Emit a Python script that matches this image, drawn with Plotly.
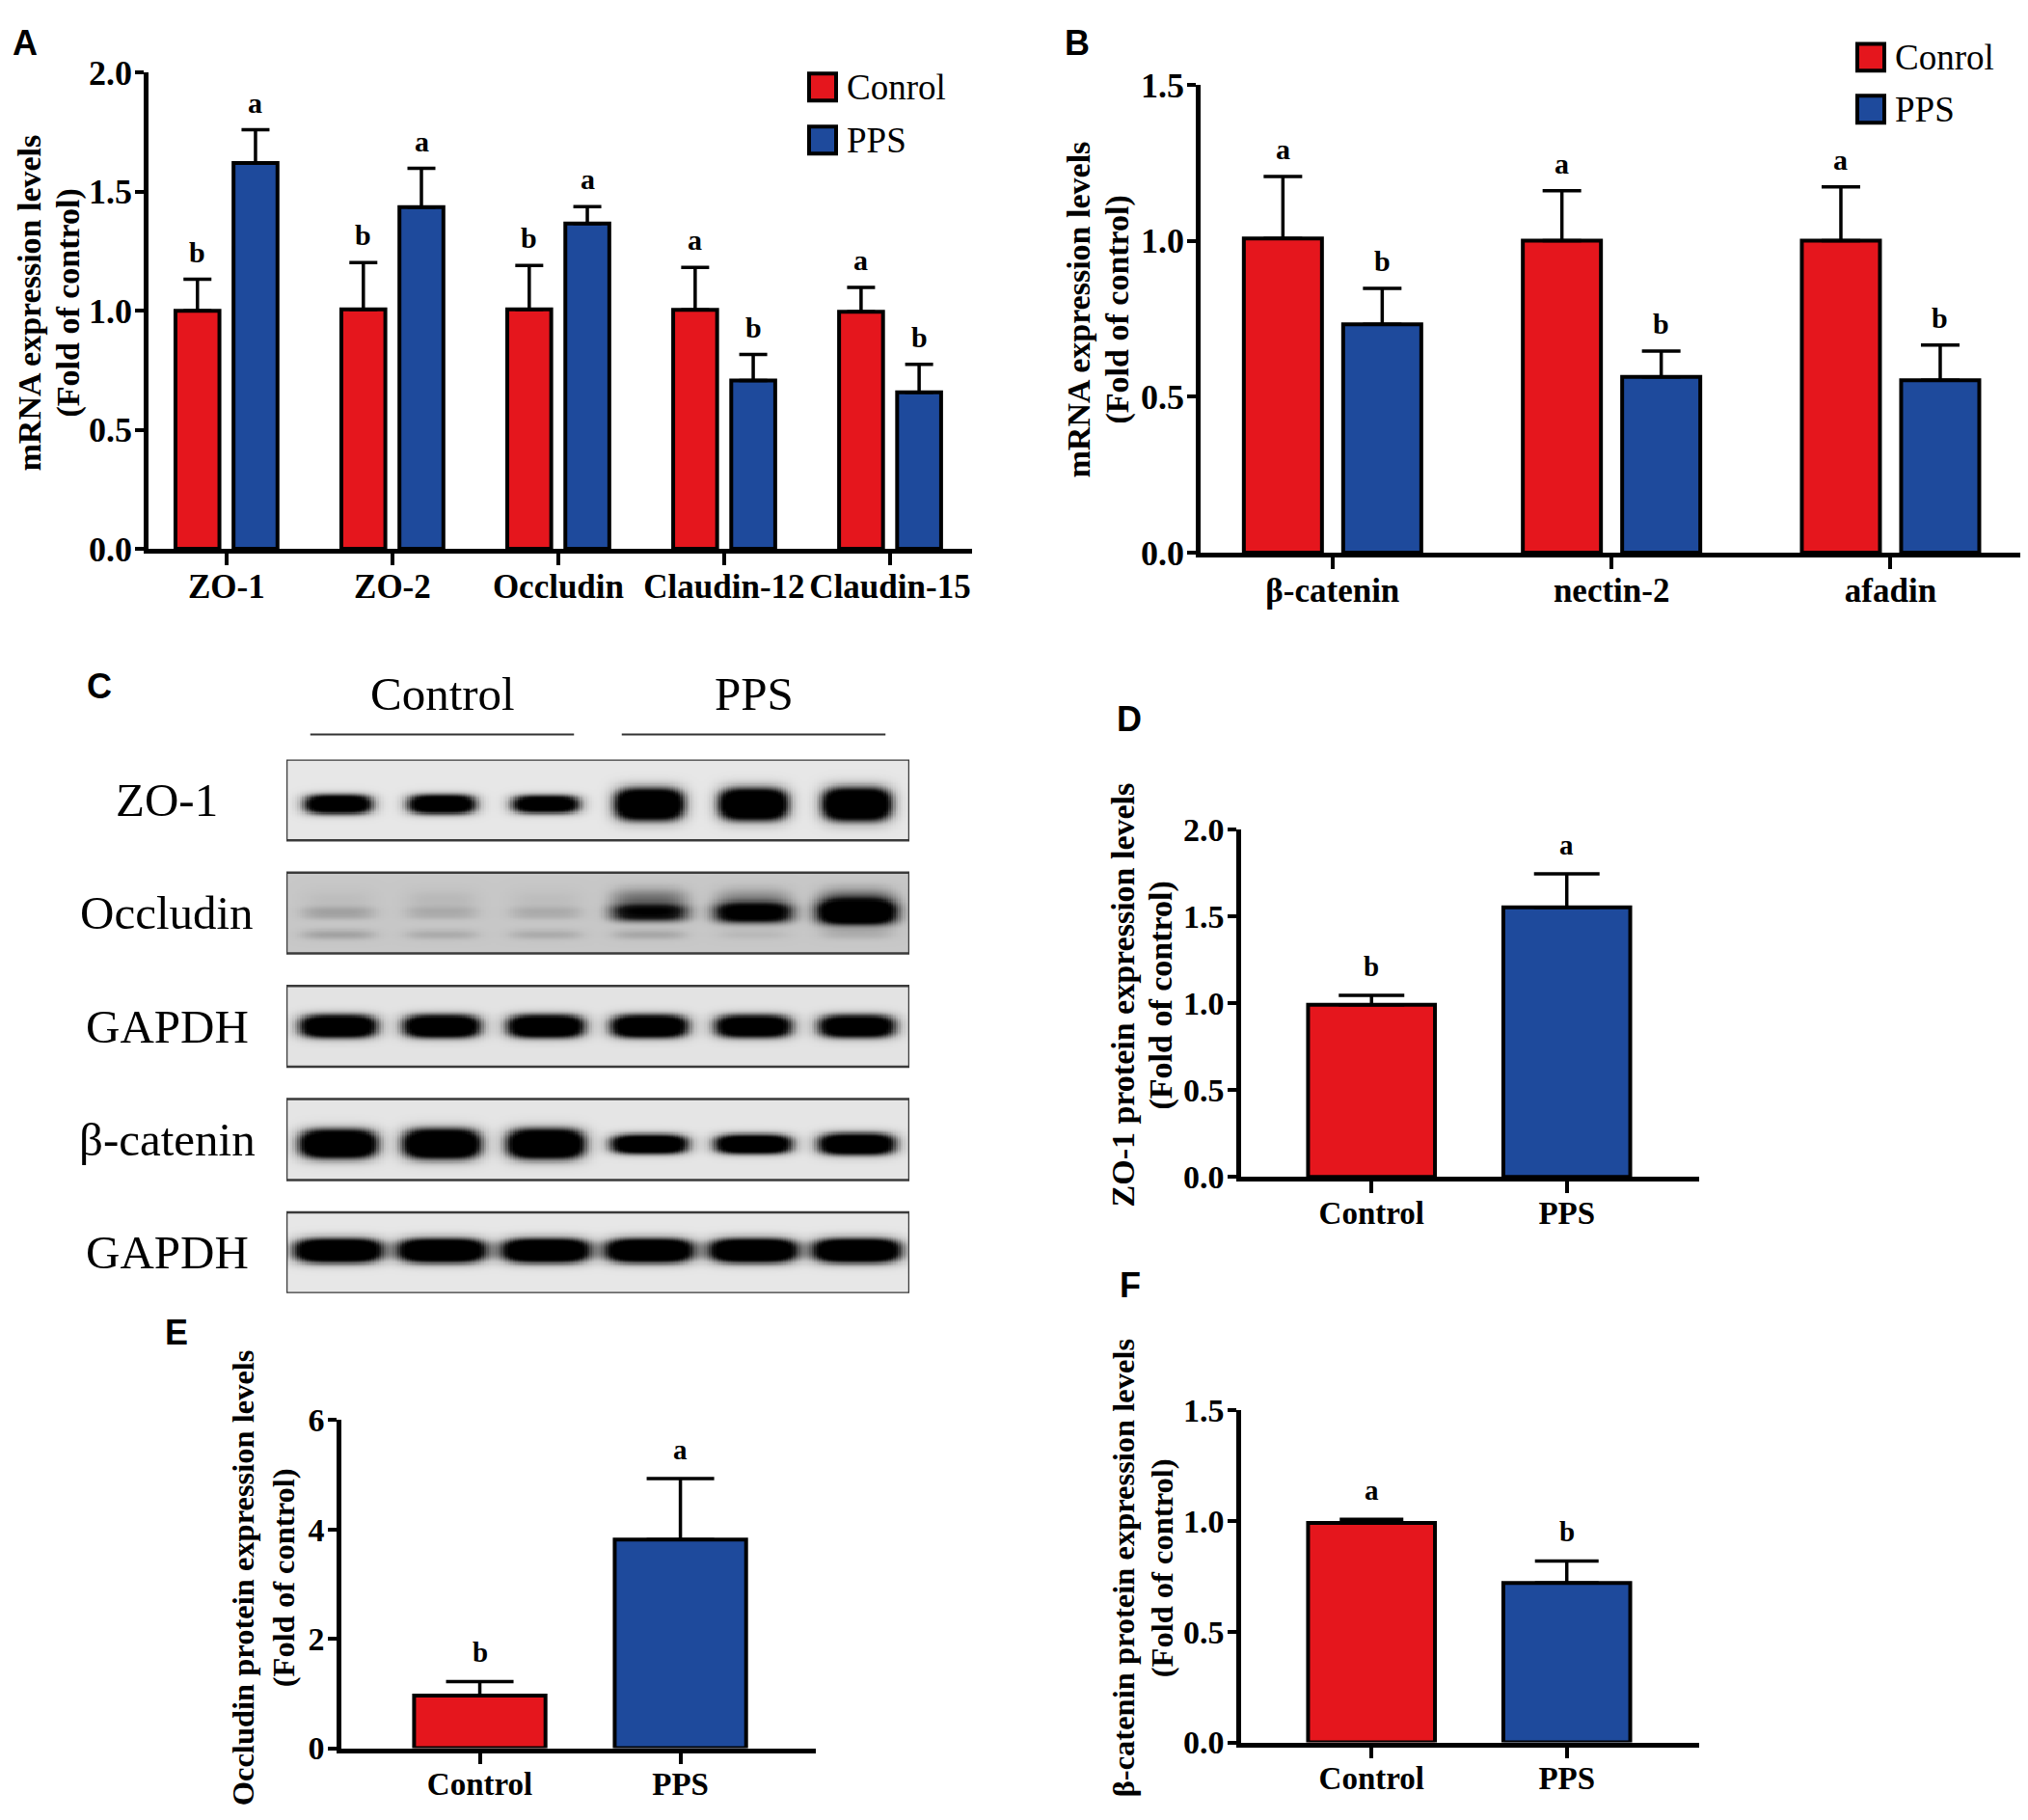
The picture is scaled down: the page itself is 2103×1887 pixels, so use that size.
import numpy as np
import plotly.graph_objects as go

# ---- A: mRNA of tight junction genes
a_genes = ["ZO-1", "ZO-2", "Occludin", "Claudin-12", "Claudin-15"]
a_control = [1.00, 1.006, 1.006, 1.004, 0.996]
a_control_sem = [0.132, 0.196, 0.184, 0.178, 0.102]
a_pps = [1.621, 1.435, 1.366, 0.707, 0.657]
a_pps_sem = [0.139, 0.163, 0.071, 0.109, 0.118]
a_control_sig = ["b", "b", "b", "a", "a"]
a_pps_sig = ["a", "a", "a", "b", "b"]

# ---- B: mRNA of adherens junction genes
b_genes = ["β-catenin", "nectin-2", "afadin"]
b_control = [1.008, 1.001, 1.001]
b_control_sem = [0.199, 0.160, 0.173]
b_pps = [0.733, 0.564, 0.553]
b_pps_sem = [0.115, 0.083, 0.113]
b_control_sig = ["a", "a", "a"]
b_pps_sig = ["b", "b", "b"]

# ---- D, E, F: protein quantification
groups = ["Control", "PPS"]
d_zo1 = [0.991, 1.552]
d_zo1_sem = [0.055, 0.193]
d_sig = ["b", "a"]
e_occludin = [0.96, 3.815]
e_occludin_sem = [0.258, 1.115]
e_sig = ["b", "a"]
f_bcatenin = [0.992, 0.721]
f_bcatenin_sem = [0.016, 0.099]
f_sig = ["a", "b"]

# ---- C: western blot, band darkness per lane (3 control + 3 PPS)
blot_rows = ["ZO-1", "Occludin", "GAPDH", "β-catenin", "GAPDH"]
blot_lanes = [1, 2, 3, 4, 5, 6]
band_strength = [
    [0.85, 0.85, 0.80, 1.00, 1.00, 1.00],
    [0.08, 0.06, 0.06, 0.45, 0.60, 0.80],
    [0.90, 0.90, 0.90, 0.90, 0.85, 0.85],
    [1.00, 1.00, 1.00, 0.90, 0.90, 0.90],
    [1.00, 1.00, 1.00, 1.00, 1.00, 1.00],
]
band_half_height = [
    [0.085, 0.085, 0.080, 0.140, 0.140, 0.145],
    [0.060, 0.060, 0.060, 0.075, 0.085, 0.100],
    [0.100, 0.100, 0.100, 0.100, 0.100, 0.100],
    [0.125, 0.130, 0.130, 0.085, 0.085, 0.095],
    [0.105, 0.105, 0.105, 0.105, 0.105, 0.105],
]
band_half_width = [0.33, 0.37, 0.37, 0.37, 0.42]
band_offset = [0.04, 0.0, 0.0, 0.04, -0.02]
blot_background = [0.05, 0.22, 0.07, 0.06, 0.05]
occludin_lower = [0.09, 0.07, 0.07, 0.08, 0.04, 0.06]
occludin_upper = [0.03, 0.04, 0.03, 0.20, 0.15, 0.24]

RED = "#E5161D"
BLUE = "#1E4A9C"
SERIF = "Liberation Serif"
SANS = "Liberation Sans"
W, H = 2087, 1884
# the page shows the figure a bit lower and slightly squeezed in height,
# so reference pixel positions are mapped onto figure pixels here
LEFT, TOP, SQUEEZE = 5, 27.5, 0.9815


def px(x):
    return (x - LEFT) / W


def py(y):
    return 1 - ((y - TOP) / SQUEEZE) / H


def dom(a, b):
    return [max(0.0, min(1.0, a)), max(0.0, min(1.0, b))]


fig = go.Figure()


def add_pair(xa, ya, cats, ctrl, ctrl_sem, pps, pps_sem, off, width, cap):
    x = np.arange(len(cats))
    for vals, sem, color, shift in [(ctrl, ctrl_sem, RED, -off), (pps, pps_sem, BLUE, off)]:
        fig.add_trace(go.Bar(
            x=x + shift, y=vals, width=width, xaxis=xa, yaxis=ya, showlegend=False,
            marker=dict(color=color, line=dict(color="black", width=4)),
            error_y=dict(type="data", array=sem, arrayminus=[0] * len(vals), symmetric=False,
                         color="black", thickness=3.5, width=cap)))


def add_single(xa, ya, vals, sem, width, cap):
    fig.add_trace(go.Bar(
        x=np.arange(len(groups)), y=vals, width=width, xaxis=xa, yaxis=ya, showlegend=False,
        marker=dict(color=[RED, BLUE], line=dict(color="black", width=4)),
        error_y=dict(type="data", array=sem, arrayminus=[0] * len(vals), symmetric=False,
                     color="black", thickness=3.5, width=cap)))


def add_letters(xa, ya, xs, vals, sem, letters, size, shift):
    for x, v, e, t in zip(xs, vals, sem, letters):
        fig.add_annotation(x=x, y=v + e, xref=xa, yref=ya, text=t, showarrow=False,
                           yanchor="bottom", yshift=shift,
                           font=dict(family=SERIF, size=size, color="black", weight="bold"))


def add_legend(x0, ys, size):
    for (label, color), y0 in zip([("Conrol", RED), ("PPS", BLUE)], ys):
        fig.add_shape(type="rect", xref="paper", yref="paper", x0=px(x0), x1=px(x0 + size),
                      y0=py(y0), y1=py(y0 + size), fillcolor=color,
                      line=dict(color="black", width=4))
        fig.add_annotation(x=px(x0 + size + 9), y=py(y0 + size / 2), xref="paper", yref="paper",
                           text=label, showarrow=False, xanchor="left", yanchor="middle",
                           font=dict(family=SERIF, size=37, color="black"))


def add_ytitle(baselines, yc, lines, size):
    # one annotation per line so the line pitch follows the reference
    for b, text in zip(baselines, lines):
        fig.add_annotation(x=px(b - 0.3 * size), y=py(yc), xref="paper", yref="paper",
                           text=text, textangle=-90, showarrow=False,
                           xanchor="center", yanchor="middle",
                           font=dict(family=SERIF, size=size, color="black", weight="bold"))


MRNA = ["mRNA expression levels", "(Fold of control)"]

add_pair("x", "y", a_genes, a_control, a_control_sem, a_pps, a_pps_sem, 0.175, 0.265, 14.5)
add_letters("x", "y", np.arange(5) - 0.175, a_control, a_control_sem, a_control_sig, 30, 10)
add_letters("x", "y", np.arange(5) + 0.175, a_pps, a_pps_sem, a_pps_sig, 30, 10)
add_legend(836, [77, 132], 28)
add_ytitle([38, 78], 315, MRNA, 34)

add_pair("x2", "y2", b_genes, b_control, b_control_sem, b_pps, b_pps_sem, 0.178, 0.28, 20)
add_letters("x2", "y2", np.arange(3) - 0.178, b_control, b_control_sem, b_control_sig, 30, 10)
add_letters("x2", "y2", np.arange(3) + 0.178, b_pps, b_pps_sem, b_pps_sig, 30, 10)
add_legend(1923, [46, 100], 28)
add_ytitle([1126, 1166], 322, MRNA, 34)

add_single("x4", "y4", d_zo1, d_zo1_sem, 0.65, 34)
add_letters("x4", "y4", [0, 1], d_zo1, d_zo1_sem, d_sig, 29, 12)
add_ytitle([1172, 1211], 1035, ["ZO-1 protein expression levels", "(Fold of control)"], 34)

add_single("x5", "y5", e_occludin, e_occludin_sem, 0.655, 35)
add_letters("x5", "y5", [0, 1], e_occludin, e_occludin_sem, e_sig, 29, 12)
add_ytitle([259, 301], 1641, ["Occludin protein expression levels", "(Fold of control)"], 32.5)

add_single("x6", "y6", f_bcatenin, f_bcatenin_sem, 0.65, 33)
add_letters("x6", "y6", [0, 1], f_bcatenin, f_bcatenin_sem, f_sig, 29, 12)
add_ytitle([1172, 1212], 1631, ["β-catenin protein expression levels", "(Fold of control)"], 32.5)

# ---- C: blot rendered as a heatmap of band intensities
HALF = 0.357
gx = np.linspace(0.5, 6.5, 261)
gy = np.linspace(-HALF - 0.01, len(blot_rows) - 1 + HALF + 0.01, 520)
Z = np.full((gy.size, gx.size), np.nan)
for r in range(len(blot_rows)):
    rows = np.abs(gy - r) <= HALF
    dy = gy[rows][:, None] - r
    z = np.full((rows.sum(), gx.size), blot_background[r])
    for k, lane in enumerate(blot_lanes):
        dx = np.abs(gx[None, :] - lane)
        prof_x = np.exp(-(dx / band_half_width[r]) ** 4)
        z += 1.6 * band_strength[r][k] * prof_x * np.exp(
            -(np.abs(dy - band_offset[r]) / band_half_height[r][k]) ** 2.5)
        if blot_rows[r] == "Occludin":
            z += 1.5 * occludin_lower[k] * prof_x * np.exp(-(np.abs(dy - 0.19) / 0.05) ** 2)
            z += 1.5 * occludin_upper[k] * prof_x * np.exp(-(np.abs(dy + 0.12) / 0.10) ** 2)
    Z[rows] = np.clip(z, 0, 1)

fig.add_trace(go.Heatmap(
    x=gx, y=gy, z=np.round(Z, 3), xaxis="x3", yaxis="y3", zmin=0, zmax=1, showscale=False,
    hoverinfo="skip",
    colorscale=[[0, "#f0f0f0"], [0.25, "#c2c2c2"], [0.5, "#767676"], [0.8, "#1a1a1a"], [1, "#000000"]]))

for r, name in enumerate(blot_rows):
    fig.add_shape(type="rect", xref="x3", yref="y3", x0=0.5, x1=6.5, y0=r - HALF, y1=r + HALF,
                  line=dict(color="#3a3a3a", width=2.5))
    fig.add_annotation(x=px(170), xref="paper", y=r, yref="y3", text=name, showarrow=False,
                       xanchor="center", font=dict(family=SERIF, size=49, color="black"))

for label, lanes in [("Control", blot_lanes[:3]), ("PPS", blot_lanes[3:])]:
    c = np.mean(lanes)
    fig.add_shape(type="line", xref="x3", yref="paper", x0=c - 1.27, x1=c + 1.27,
                  y0=py(764), y1=py(764), line=dict(color="#333333", width=2))
    fig.add_annotation(x=c, xref="x3", y=py(722), yref="paper", text=label, showarrow=False,
                       font=dict(family=SERIF, size=49, color="black"))

# ---- panel letters
for t, x, y, up in [("A", 8, 28, 5), ("B", 1099, 28, 5), ("C", 85, 691, 0),
                    ("D", 1153, 725, 0), ("E", 166, 1363, 0), ("F", 1156, 1314, 0)]:
    fig.add_annotation(x=px(x), y=min(1.0, py(y)), xref="paper", yref="paper", text=t,
                       showarrow=False, xanchor="left", yanchor="top", yshift=up,
                       font=dict(family=SANS, size=36, color="black", weight="bold"))


def xax(span, rng, cats, anchor, size):
    return dict(domain=dom(px(span[0]), px(span[1])), range=rng, anchor=anchor,
                tickvals=list(range(len(cats))), ticktext=cats,
                showline=True, linecolor="black", linewidth=4.5, ticks="outside",
                tickcolor="black", tickwidth=4, ticklen=12, ticklabelstandoff=-8,
                showgrid=False, zeroline=False,
                tickfont=dict(family=SERIF, size=size, color="black", weight="bold"))


def yax(span, rng, dtick, fmt, anchor, size, standoff):
    return dict(domain=dom(py(span[0]), py(span[1])), range=rng, anchor=anchor, dtick=dtick,
                tickformat=fmt, showline=True, linecolor="black", linewidth=4.5,
                ticks="outside", tickcolor="black", tickwidth=4, ticklen=9,
                ticklabelstandoff=standoff, showgrid=False, zeroline=False,
                tickfont=dict(family=SERIF, size=size, color="black", weight="bold"))


fig.update_layout(
    width=W, height=H, margin=dict(l=0, r=0, t=0, b=0), showlegend=False,
    paper_bgcolor="white", plot_bgcolor="white",
    xaxis=xax((151, 1005), [-0.47, 4.494], a_genes, "y", 35),
    yaxis=yax((571, 76), [0, 2], 0.5, ".1f", "x", 36, -4),
    xaxis2=xax((1242, 2092), [-0.473, 2.465], b_genes, "y2", 35),
    yaxis2=yax((575, 89), [0, 1.5], 0.5, ".1f", "x2", 36, -4),
    xaxis3=dict(domain=dom(px(294), px(940)), range=[0.5, 6.5], anchor="y3", visible=False),
    yaxis3=dict(domain=dom(py(1345), py(790)), range=[len(blot_rows) - 1 + HALF, -HALF],
                anchor="x3", visible=False),
    xaxis4=xax((1284, 1759), [-0.668, 1.678], groups, "y4", 33),
    yaxis4=yax((1224, 863), [0, 2], 0.5, ".1f", "x4", 34, -3),
    xaxis5=xax((351, 843), [-0.69, 1.675], groups, "y5", 33),
    yaxis5=yax((1818, 1477), [0, 6], 2, "d", "x5", 34, -3),
    xaxis6=xax((1284, 1759), [-0.668, 1.678], groups, "y6", 33),
    yaxis6=yax((1812, 1467), [0, 1.5], 0.5, ".1f", "x6", 34, -3),
)

fig.write_html("out.html")
